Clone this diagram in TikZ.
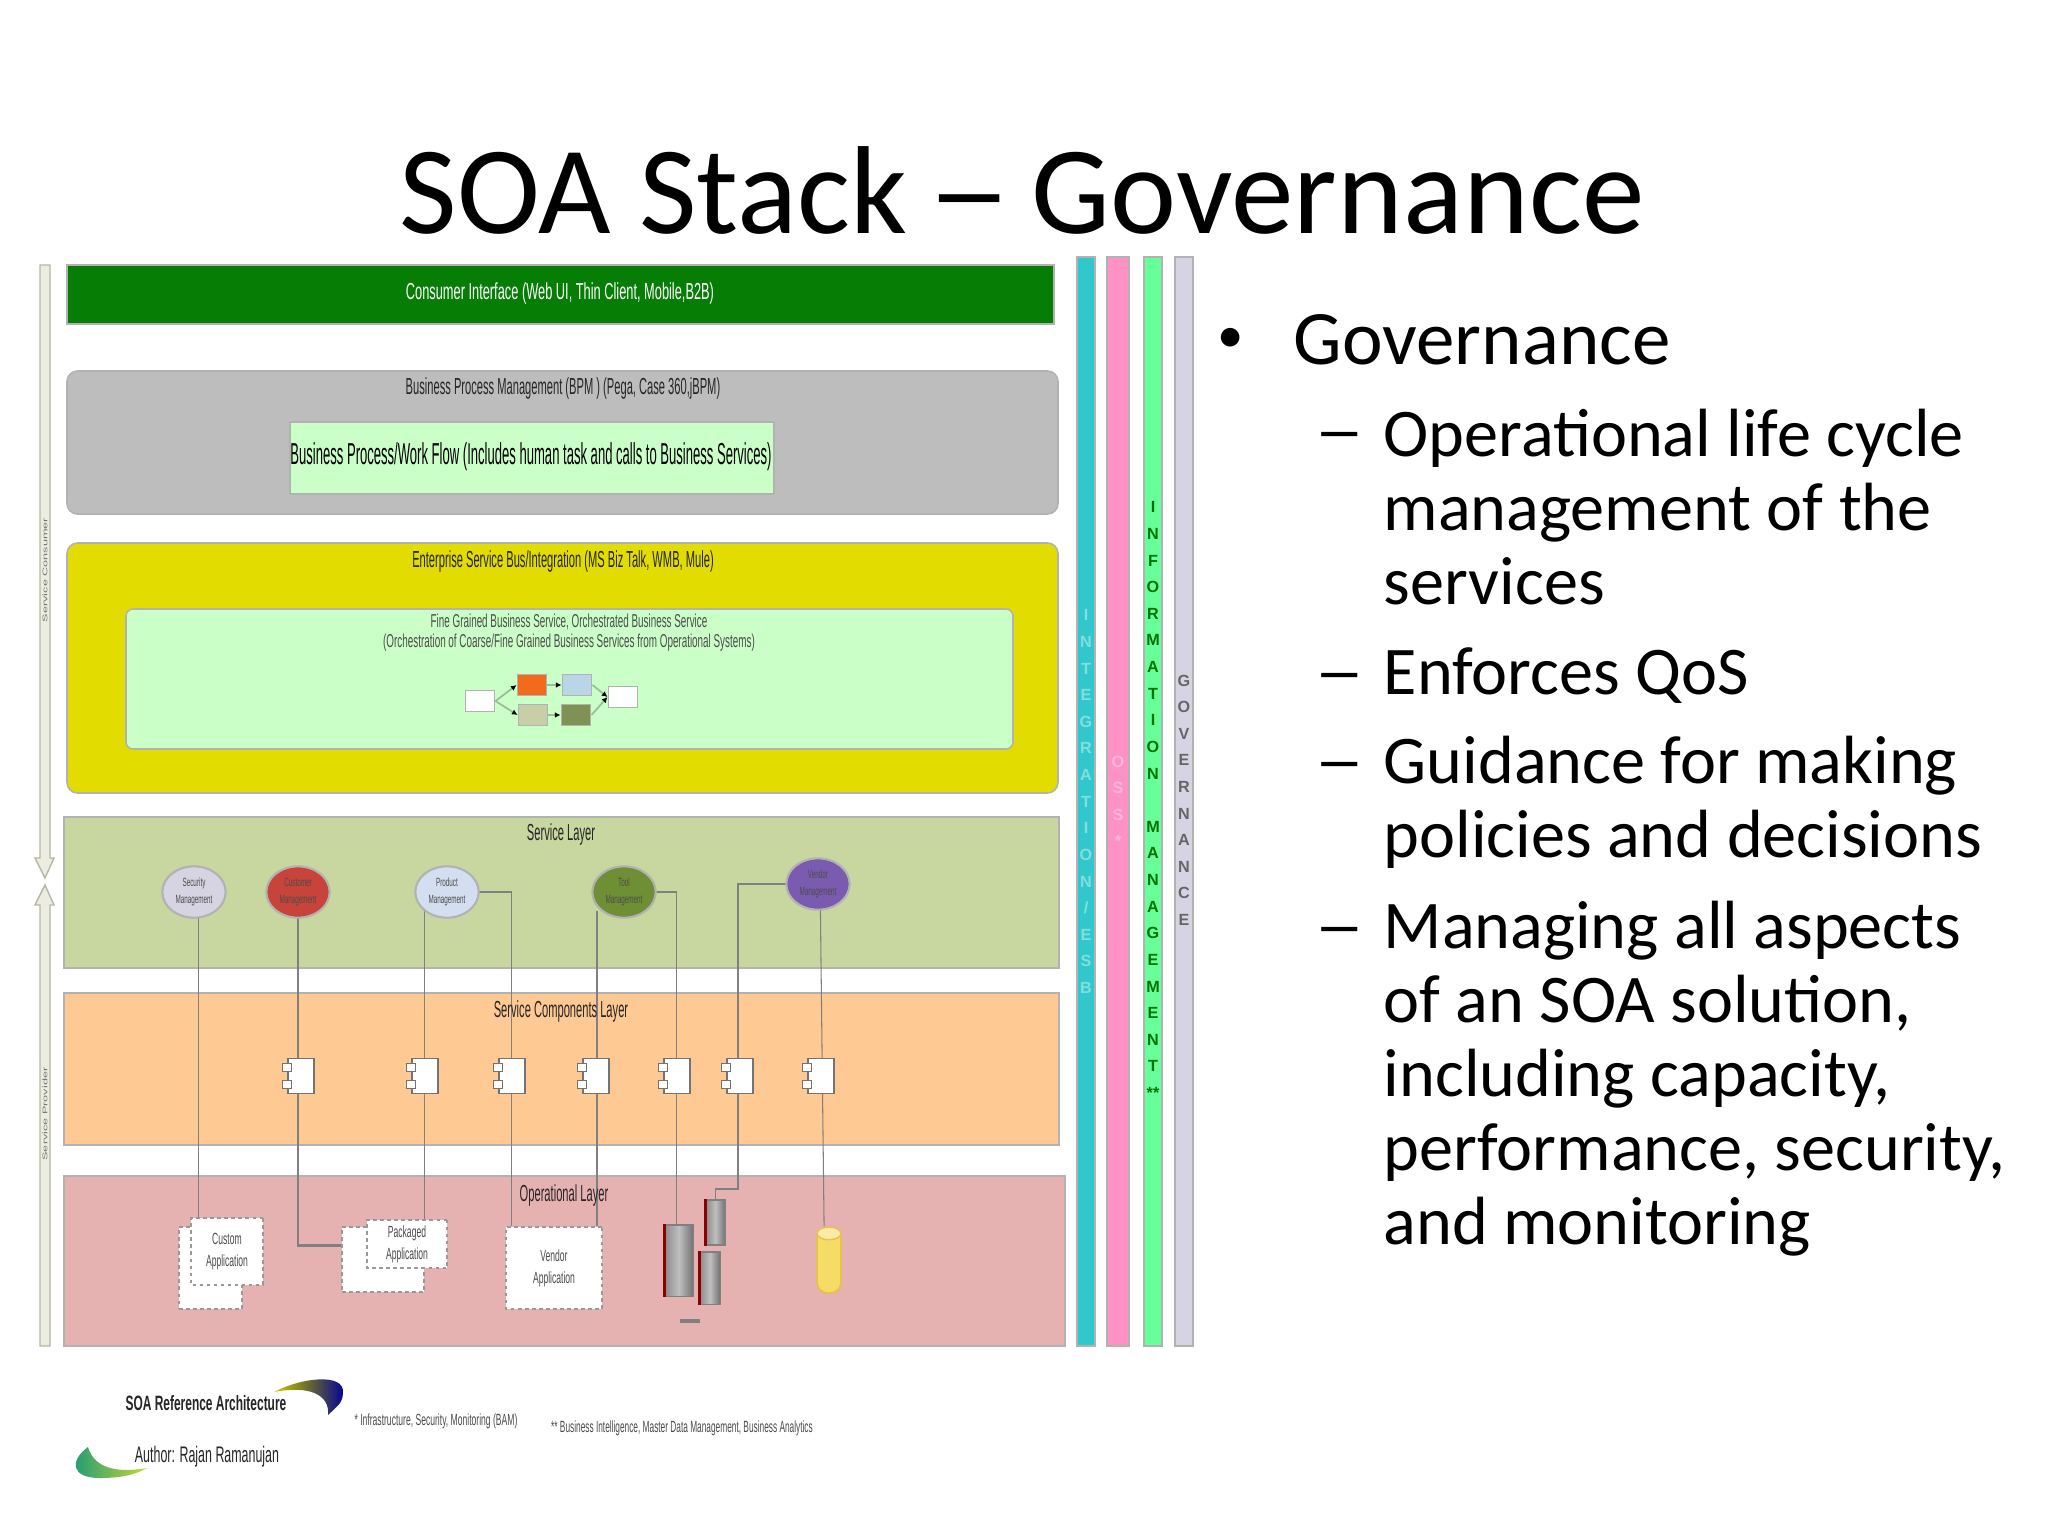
\documentclass[tikz,border=0pt]{standalone}
\usepackage{fontspec}
\setmainfont{Carlito}
\setsansfont{Liberation Sans}
\usepackage{tikz}
\usetikzlibrary{shapes.geometric, backgrounds, arrows.meta}
\pgfdeclarelayer{wires}
\pgfsetlayers{background,wires,main}
\definecolor{consumergreen}{HTML}{067E06}
\definecolor{bpmgrey}{HTML}{BDBDBD}
\definecolor{flowgreen}{HTML}{CBFFC8}
\definecolor{esbyellow}{HTML}{E3DC00}
\definecolor{serviceolive}{HTML}{C8D69F}
\definecolor{comporange}{HTML}{FFC993}
\definecolor{opspink}{HTML}{E6B1B1}
\definecolor{stripteal}{HTML}{30C8CC}
\definecolor{strippink}{HTML}{FF92C4}
\definecolor{stripgreen}{HTML}{66FF99}
\definecolor{stripgrey}{HTML}{D6D4E2}
\definecolor{mgrred}{HTML}{C8433A}
\definecolor{mgrblue}{HTML}{D3DFF0}
\definecolor{mgrolive}{HTML}{6F8F35}
\definecolor{mgrpurple}{HTML}{7A5BAF}
\definecolor{porange}{HTML}{F26A1B}
\definecolor{pblue}{HTML}{B9D5E6}
\definecolor{ptan}{HTML}{C8CFA6}
\definecolor{polive}{HTML}{7F9253}
\definecolor{barcream}{HTML}{ECEDE0}
\definecolor{baredge}{HTML}{B4B8A4}
\definecolor{swoosha}{HTML}{1B9A76}
\definecolor{swooshb}{HTML}{C6D63A}
\definecolor{dbbody}{HTML}{F5DC66}
\definecolor{dbtopfill}{HTML}{F8EBA6}
\definecolor{dbedge}{HTML}{E6C24A}
\tikzset{
	band/.style={fill=#1,draw=black!30,line width=.45pt},
	lbl/.style={font=\sffamily\fontsize{6.6}{8}\selectfont,transform shape,xscale=.48,inner sep=0pt,text=black!85},
	tiny/.style={font=\sffamily\fontsize{4.6}{6.2}\selectfont,transform shape,xscale=.53,inner sep=0pt,align=center,text=black!70},
	stack/.style={font=\sffamily\bfseries\fontsize{4.6}{7.57}\selectfont,inner sep=0pt,anchor=north,align=center},
	svc/.style={ellipse,tiny,font=\sffamily\fontsize{3.4}{4.8}\selectfont,minimum width=34pt,minimum height=14.6pt,fill=#1,draw=black!30,line width=.6pt},
	wire/.style={draw=black!50,line width=.3pt},
	appbox/.style={rectangle,fill=white,draw=black!40,dash pattern=on 1pt off 1pt,line width=.35pt,inner sep=0pt},
	comp/.style={rectangle,fill=white,draw=black!55,line width=.35pt,minimum width=7.4pt,minimum height=10pt,inner sep=0pt},
	tag/.style={rectangle,fill=white,draw=black!55,line width=.3pt,minimum width=2.6pt,minimum height=2.4pt,inner sep=0pt},
	srv/.style={rectangle,left color=black!45,right color=black!55,middle color=black!25,draw=black!50,line width=.3pt,inner sep=0pt},
	srvedge/.style={draw=red!55!black,line width=.7pt},
	pbox/.style={rectangle,fill=#1,draw=black!30,line width=.4pt,minimum width=8.4pt,minimum height=5.9pt,inner sep=0pt},
	pflow/.style={draw=black!25!flowgreen,line width=.5pt,-{Latex[length=1.6pt,width=1.6pt,black]}},
	head/.style={font=\fontsize{21.9}{26}\selectfont,inner sep=0pt,anchor=base west},
	body/.style={font=\fontsize{19.4}{21}\selectfont,inner sep=0pt,anchor=base west,align=left},
	sdash/.style={body,transform shape,xscale=.72}
}
\begin{document}
\begin{tikzpicture}[x=.01cm,y=-.01cm]
	\useasboundingbox(0,0)rectangle(2048,1536);
	\begin{pgfonlayer}{background}
		\fill[white](0,0)rectangle(2048,1536);
		% layers of the stack
		\filldraw[band=consumergreen](67,265)rectangle(1054,324);
		\filldraw[band=bpmgrey,rounded corners=3pt](67,371)rectangle(1058,514);
		\filldraw[band=esbyellow,rounded corners=3pt](67,543)rectangle(1058,793);
		\filldraw[band=serviceolive](64,817)rectangle(1059,968);
		\filldraw[band=comporange](64,993)rectangle(1059,1145);
		\filldraw[band=opspink](64,1176)rectangle(1065,1346);
		\filldraw[band=flowgreen](290,422)rectangle(774,494);
		\filldraw[band=flowgreen,rounded corners=2pt](126,609)rectangle(1013,749);
		% upright strips
		\filldraw[band=stripteal](1077,257)rectangle(1095,1346);
		\filldraw[band=strippink](1107,257)rectangle(1129,1346);
		\filldraw[band=stripgreen](1144,257)rectangle(1162,1346);
		\filldraw[band=stripgrey](1175,257)rectangle(1193,1346);
		% service consumer and provider arrows
		\draw[baredge,fill=barcream,line width=.4pt](40,265)--(50,265)--(50,858)--(54,858)--(45,878)--(35,858)--(40,858)--cycle;
		\draw[baredge,fill=barcream,line width=.4pt](40,1346)--(50,1346)--(50,905)--(54,905)--(45,885)--(35,905)--(40,905)--cycle;
	\end{pgfonlayer}

	\node[font=\fontsize{35.6}{44}\selectfont,inner sep=0pt](title)at(1022,190){SOA Stack \kern-2.3pt\scalebox{1.35}[1]{--}\kern-2.3pt{} Governance};

	\node[lbl,xscale=1.15,text=white](consumer)at(560,293){Consumer Interface (Web UI, Thin Client, Mobile,B2B)};
	\node[lbl](bpm)at(563,388){Business Process Management (BPM ) (Pega, Case 360,jBPM)};
	\node[lbl,font=\sffamily\fontsize{8.6}{10}\selectfont,xscale=.9,text=black](flow)at(531,457){Business Process/Work Flow (Includes human task and calls to Business Services)};
	\node[lbl](esb)at(563,561){Enterprise Service Bus/Integration (MS Biz Talk, WMB, Mule)};
	\node[tiny,font=\sffamily\fontsize{5.3}{5.6}\selectfont](fine)at(569,633){Fine Grained Business Service,  Orchestrated Business Service\\(Orchestration of Coarse/Fine Grained Business Services from Operational Systems)};
	\node[lbl](svclayer)at(561,834){Service Layer};
	\node[lbl](complayer)at(561,1011){Service Components Layer};
	\node[lbl](opslayer)at(564,1195){Operational Layer};

	\node[tiny,rotate=90,font=\sffamily\fontsize{3.6}{4}\selectfont,text=black!55](consumerlbl)at(45,570){Service Consumer};
	\node[tiny,rotate=90,font=\sffamily\fontsize{3.6}{4}\selectfont,text=black!55](providerlbl)at(45,1114){Service Provider};

	% little process in the bus
	\node[pbox=white](pa)at(480,701){};
	\node[pbox=porange](pb)at(532,685){};
	\node[pbox=pblue](pc)at(577,685){};
	\node[pbox=ptan](pd)at(533,715){};
	\node[pbox=polive](pe)at(576,715){};
	\node[pbox=white](pf)at(623,697){};
	\draw[pflow](pa.east)--(pb.west);
	\draw[pflow](pa.east)--(pd.west);
	\draw[pflow](pb.east)--(pc.west);
	\draw[pflow](pd.east)--(pe.west);
	\draw[pflow](pc.east)--(pf.west);
	\draw[pflow](pe.east)--(pf.west);

	% managers of the service layer
	\node[svc=stripgrey](sec)at(194,892){Security\\Management};
	\node[svc=mgrred](cust)at(298,892){Customer\\Management};
	\node[svc=mgrblue](prod)at(447,892){Product\\Management};
	\node[svc=mgrolive](tool)at(624,892){Tool\\Management};
	\node[svc=mgrpurple](vend)at(818,884){Vendor\\Management};

	% components
	\foreach\cname/\cx in {ca/301,cb/425,cc/512,cd/596,ce/677,cf/740,cg/821}{
		\node[comp](\cname)at(\cx,1076){};
		\node[tag]at([yshift=2.4pt]\cname.west){};
		\node[tag]at([yshift=-2.4pt]\cname.west){};
	}

	% applications
	\node[appbox,minimum width=17.9pt,minimum height=23.3pt](custb)at(210.5,1268){};
	\node[appbox,tiny,minimum width=38.7pt,minimum height=19pt](custf)at(227,1251.5){Custom\\Application};
	\node[appbox,minimum width=23.3pt,minimum height=18.5pt](pkgb)at(383,1259.5){};
	\node[appbox,tiny,minimum width=43pt,minimum height=13.7pt](pkgf)at(407,1244){Packaged\\Application};
	\node[appbox,tiny,minimum width=51.5pt,minimum height=23.3pt](vapp)at(554,1268){Vendor\\Application};
	\node[srv,minimum width=8pt,minimum height=20.2pt](srva)at(679,1260.5){};
	\node[srv,minimum width=5.4pt,minimum height=12.8pt](srvb)at(715.5,1222.5){};
	\node[srv,minimum width=5.7pt,minimum height=14.8pt](srvc)at(710,1278){};
	\draw[srvedge](srva.north west)--(srva.south west);
	\draw[srvedge](srvb.north west)--(srvb.south west);
	\draw[srvedge](srvc.north west)--(srvc.south west);
	\node[rectangle,rounded corners=3pt,fill=dbbody,draw=dbedge,line width=.5pt,minimum width=6.8pt,minimum height=18.5pt,inner sep=0pt](db)at(829,1260.5){};
	\node[ellipse,fill=dbtopfill,draw=dbedge,line width=.4pt,minimum width=6.8pt,minimum height=3.6pt,inner sep=0pt](dbtop)at([yshift=-1.8pt]db.north){};
	\coordinate(srvbend)at(738,1189);
	\coordinate(srvtaga)at(680,1321);
	\coordinate(srvtagb)at(700,1321);
	\draw[black!50,line width=1pt](srvtaga)--(srvtagb);

	\begin{pgfonlayer}{wires}
		\draw[wire]([xshift=1.4pt]sec.center)--([xshift=1.4pt]sec.center|-custf.north);
		\draw[wire,line width=.6pt](cust.center)|-([yshift=4pt]pkgb.west);
		\draw[wire](prod.south west)--(prod.south west|-pkgf.north);
		\draw[wire](prod.east)-|([xshift=1.7pt]vapp.north west);
		\draw[wire]([xshift=-1.2pt]tool.south west)--([xshift=-1.2pt]tool.south west|-vapp.north);
		\draw[wire](tool.east)-|([xshift=-.8pt]srva.north);
		\draw[wire](vend.west)-|(srvbend)-|(srvb.north);
		\draw[wire]([xshift=.6pt]vend.center)--([xshift=-1.4pt]dbtop.north);
	\end{pgfonlayer}

	% logo swooshes and notes
	\shade[left color=yellow!60!olive,right color=blue!60!black](274,1392)..controls(300,1378)and(345,1372)..(343,1393)..controls(342,1402)..(328,1415)..controls(330,1395)and(310,1385)..cycle;
	\shade[left color=swoosha,right color=swooshb](88,1447)..controls(70,1460)and(70,1478)..(100,1478)..controls(120,1478)and(135,1475)..(147,1468)..controls(125,1472)and(95,1472)..cycle;
	\node[lbl,font=\sffamily\bfseries\fontsize{5.9}{7}\selectfont,xscale=1.2](ref)at(206,1403){SOA Reference Architecture};
	\node[lbl,font=\sffamily\fontsize{6.4}{7}\selectfont,xscale=1.15](author)at(207,1457){Author: Rajan Ramanujan};
	\node[tiny](noteone)at(436,1421){* Infrastructure, Security, Monitoring (BAM)};
	\node[tiny,xscale=.97](notetwo)at(682,1428){** Business Intelligence, Master Data Management, Business Analytics};

	% strip letters
	\node[stack,text=white!40!stripteal](integ)at(1086,609){I\\N\\T\\E\\G\\R\\A\\T\\I\\O\\N\\/\\E\\S\\B};
	\node[stack,text=white!35!strippink](oss)at(1118,755){O\\S\\S\\*};
	\node[stack,text=green!45!black](info)at(1153,501){I\\N\\F\\O\\R\\M\\A\\T\\I\\O\\N\\[7.57pt]M\\A\\N\\A\\G\\E\\M\\E\\N\\T\\**};
	\node[stack,text=black!60](gov)at(1184,674){G\\O\\V\\E\\R\\N\\A\\N\\C\\E};

	% bullets on the right
	\node[head,font=\fontsize{15}{18}\selectfont](bulleta)at(1217,352){•};
	\node[head](gover)at(1293,364){Governance};
	\node[sdash](dasha)at(1317,453){---};
	\node[body](texta)at(1383,604){Operational life cycle\\management of the\\services};
	\node[sdash](dashb)at(1317,694){---};
	\node[body](textb)at(1383,694){Enforces QoS};
	\node[sdash](dashc)at(1317,783){---};
	\node[body](textc)at(1383,857){Guidance for making\\policies and decisions};
	\node[sdash](dashd)at(1317,948){---};
	\node[body](textd)at(1383,1244){Managing all aspects\\of an SOA solution,\\including capacity,\\performance, security,\\and monitoring};
\end{tikzpicture}
\end{document}
